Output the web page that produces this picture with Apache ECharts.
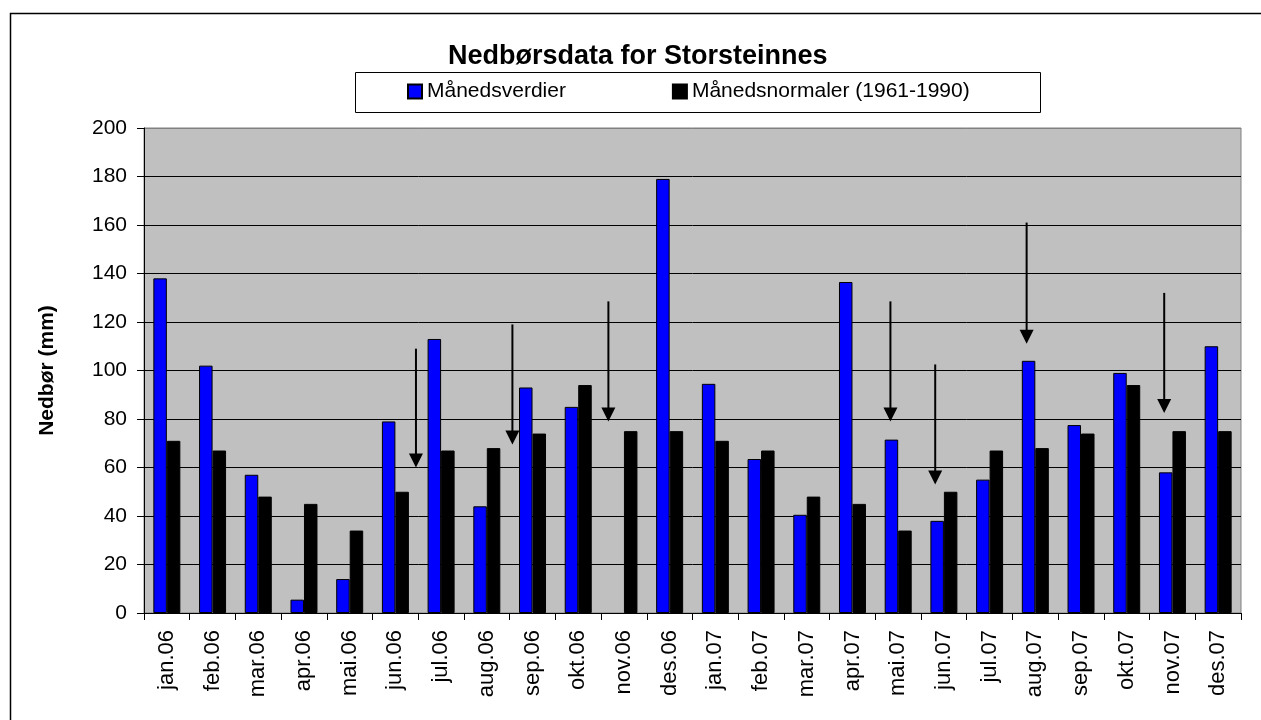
<!DOCTYPE html>
<html>
<head>
<meta charset="utf-8">
<script src="https://cdn.jsdelivr.net/npm/echarts@6/dist/echarts.min.js"></script>
<style>
html,body{margin:0;padding:0;background:#fff;}
#c{width:1261px;height:720px;}
</style>
</head>
<body>
<div id="c"></div>
<script>
var categories = ['jan.06','feb.06','mar.06','apr.06','mai.06','jun.06','jul.06','aug.06','sep.06','okt.06','nov.06','des.06',
                  'jan.07','feb.07','mar.07','apr.07','mai.07','jun.07','jul.07','aug.07','sep.07','okt.07','nov.07','des.07'];
var monthlyValues = [138,102,57,5.5,14,79,113,44,93,85,null,179,
                     94.5,63.5,40.5,136.5,71.5,38,55,104,77.5,99,58,110];
var monthlyNormals = [71,67,48,45,34,50,67,68,74,94,75,75,
                      71,67,48,45,34,50,67,68,74,94,75,75];
var yTicks = [0,20,40,60,80,100,120,140,160,180,200];
// arrows: [category position (0-24), start value, tip value]
var arrowPos   = [5.95, 8.06, 10.16, 16.33, 17.31, 19.31, 22.32];
var arrowStart = [109, 119, 128.5, 128.5, 102.5, 161, 132];
var arrowTip   = [60, 69.5, 79, 79, 53, 111, 82.5];

var FONT = "'Liberation Sans', Arial, sans-serif";
var arrows = arrowPos.map(function(x,i){return [x, arrowStart[i], arrowTip[i]];});

var chart = echarts.init(document.getElementById('c'));
chart.setOption({
  animation:false,
  backgroundColor:'#fff',
  textStyle:{fontFamily:FONT},
  title:{
    text:'Nedbørsdata for Storsteinnes',
    left:443, top:38,
    textStyle:{fontFamily:FONT,fontSize:27,fontWeight:'bold',color:'#000'}
  },
  graphic:[
    {type:'rect',left:8,top:11,shape:{width:1300,height:800},style:{fill:'none',stroke:'#000',lineWidth:1.5},silent:true,z:-1},
    {type:'rect',left:355,top:72,shape:{width:685,height:40},style:{fill:'#fff',stroke:'#000',lineWidth:1},silent:true,z:-1}
  ],
  legend:{
    data:['Månedsverdier','Månedsnormaler (1961-1990)'],
    left:407, top:81, padding:0,
    itemWidth:14, itemHeight:14, itemGap:106,
    icon:'rect',
    textStyle:{fontFamily:FONT,fontSize:21,color:'#000'}
  },
  grid:{left:144,right:20,top:128,bottom:107,show:true,backgroundColor:'#C0C0C0',borderColor:'#808080',borderWidth:1,outerBoundsMode:'none'},
  xAxis:[{
    type:'category',
    data:categories,
    boundaryGap:true,
    axisLine:{lineStyle:{color:'#000',width:1}},
    axisTick:{show:true,interval:0,length:7,lineStyle:{color:'#000'}},
    axisLabel:{interval:0,rotate:90,fontSize:22,color:'#000',margin:17,fontFamily:FONT}
  },{
    type:'value', min:0, max:24, show:false
  }],
  yAxis:{
    type:'value', min:yTicks[0], max:yTicks[yTicks.length-1], interval:yTicks[1]-yTicks[0],
    name:'Nedbør (mm)', nameLocation:'middle', nameGap:86,
    nameTextStyle:{fontFamily:FONT,fontSize:21,fontWeight:'bold',color:'#000'},
    axisLine:{show:true,lineStyle:{color:'#000'}},
    axisTick:{show:true,length:7,lineStyle:{color:'#000'}},
    axisLabel:{fontSize:21,color:'#000',margin:17,fontFamily:FONT},
    splitLine:{show:true,lineStyle:{color:['#000','#000','#000','#000','#000','#000','#000','#000','#000','#000','#808080'],width:1}}
  },
  series:[
    {name:'Månedsverdier',type:'bar',data:monthlyValues,barWidth:13.5,barGap:'0%',
     itemStyle:{color:'#0000FF',borderColor:'#000',borderWidth:1}},
    {name:'Månedsnormaler (1961-1990)',type:'bar',data:monthlyNormals,barWidth:13.5,barGap:'0%',
     itemStyle:{color:'#000000',borderColor:'#000',borderWidth:1}},
    {name:'arrows',type:'custom',xAxisIndex:1,yAxisIndex:0,data:arrows,clip:false,z:5,
     encode:{x:0,y:[1,2]},
     renderItem:function(params,api){
       var p1=api.coord([api.value(0),api.value(1)]);
       var p2=api.coord([api.value(0),api.value(2)]);
       var h=14,w=7;
       return {type:'group',children:[
         {type:'line',shape:{x1:p1[0],y1:p1[1],x2:p2[0],y2:p2[1]-h+1},style:{stroke:'#000',lineWidth:2}},
         {type:'polygon',shape:{points:[[p2[0]-w,p2[1]-h],[p2[0]+w,p2[1]-h],[p2[0],p2[1]]]},style:{fill:'#000'}}
       ]};
     }}
  ]
});
</script>
</body>
</html>
